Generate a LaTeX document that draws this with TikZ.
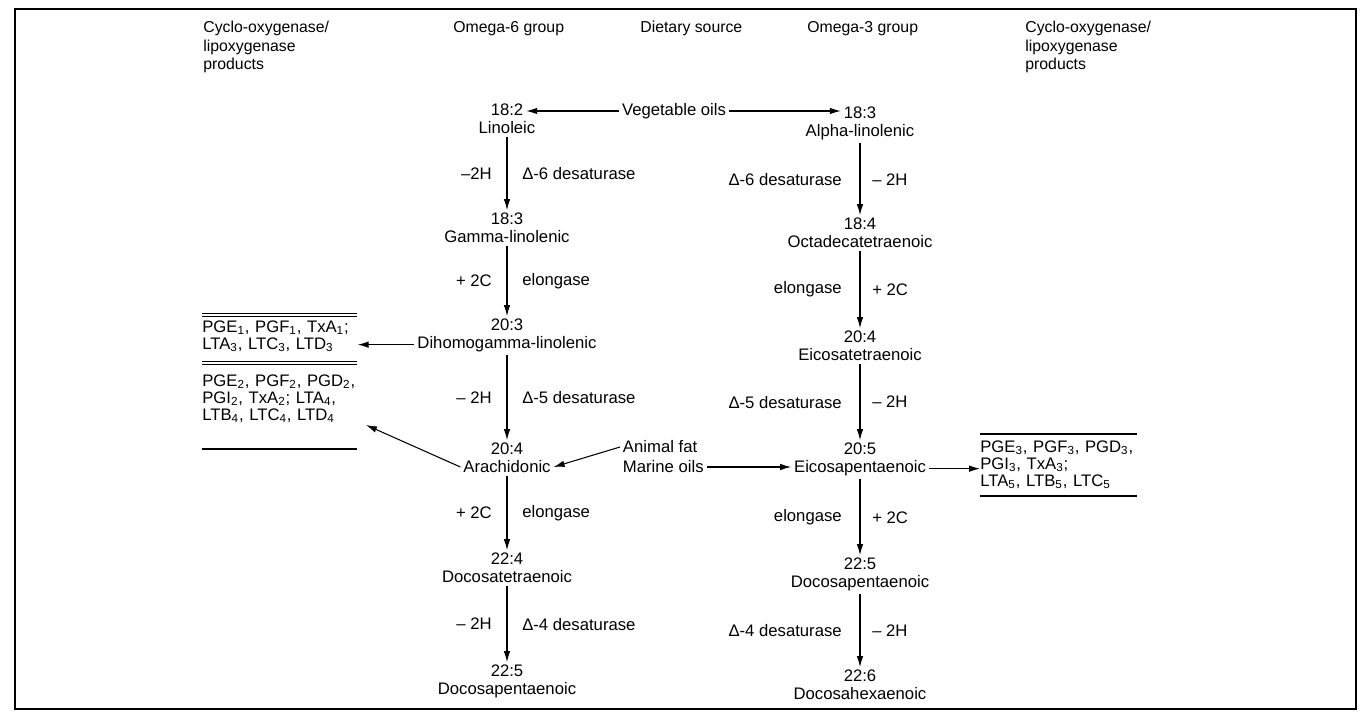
\documentclass[tikz,border=0pt]{standalone}
\usepackage{fontspec}
\setmainfont{Liberation Sans}
\usetikzlibrary{arrows.meta,positioning,calc}

\tikzset{
  acid/.style={inner sep=1.5pt, font=\fontsize{9.5}{10}\selectfont},
  enz/.style={inner sep=1pt, font=\fontsize{9.5}{10}\selectfont},
  head/.style={anchor=north west, inner sep=0pt, align=left, font=\fontsize{9}{10.5}\selectfont},
  prod/.style={anchor=north west, inner sep=0pt, align=left, text width=3.1cm, font=\fontsize{9.5}{9.7}\selectfont},
  flow/.style={-{Latex[length=2.2mm,width=1.3mm]}, line width=0.6pt},
  dbl/.style={double, double distance=1.4pt, line width=0.5pt},
}

\begin{document}
\begin{tikzpicture}[x=0.02cm, y=-0.02cm]
    \useasboundingbox (0,0) rectangle (1369,719);
    \draw[line width=0.7pt] (15,9) rectangle (1356,709);

    % Headers
    \node[head] (hl) at (203,21) {Cyclo-oxygenase/\\lipoxygenase\\products};
    \node[head] (h6) at (453,21) {Omega-6 group};
    \node[head] (hd) at (640,21) {Dietary source};
    \node[head] (h3) at (807,21) {Omega-3 group};
    \node[head] (hr) at (1025,21) {Cyclo-oxygenase/\\lipoxygenase\\products};

    % Omega-6 group
    \foreach \n/\y/\num/\name in {1/110/18:2/Linoleic, 2/219/18:3/Gamma-linolenic,
        3/325/20:3/Dihomogamma-linolenic, 4/449/20:4/Arachidonic,
        5/559/22:4/Docosatetraenoic, 6/671/22:5/Docosapentaenoic}
    {
        \node[acid] (a\n) at (507,\y) {\num};
        \node[acid, below=0pt of a\n] (a\n n) {\name};
    }

    % Omega-3 group
    \foreach \n/\y/\num/\name in {1/113/18:3/Alpha-linolenic, 2/224/18:4/Octadecatetraenoic,
        3/337/20:4/Eicosatetraenoic, 4/449/20:5/Eicosapentaenoic,
        5/564/22:5/Docosapentaenoic, 6/676/22:6/Docosahexaenoic}
    {
        \node[acid] (c\n) at (860,\y) {\num};
        \node[acid, below=0pt of c\n] (c\n n) {\name};
    }

    % Steps
    \draw[flow] (a1n) -- node[enz, left=0.26cm] {–2H} node[enz, right=0.26cm] {Δ-6 desaturase} (a2);
    \draw[flow] (a2n) -- node[enz, left=0.26cm] {+ 2C} node[enz, right=0.26cm] {elongase} (a3);
    \draw[flow] (a3n) -- node[enz, left=0.26cm] {– 2H} node[enz, right=0.26cm] {Δ-5 desaturase} (a4);
    \draw[flow] (a4n) -- node[enz, left=0.26cm] {+ 2C} node[enz, right=0.26cm] {elongase} (a5);
    \draw[flow] (a5n) -- node[enz, left=0.26cm] {– 2H} node[enz, right=0.26cm] {Δ-4 desaturase} (a6);

    \draw[flow] (c1n) -- node[enz, left=0.32cm] {Δ-6 desaturase} node[enz, right=0.2cm] {– 2H} (c2);
    \draw[flow] (c2n) -- node[enz, left=0.32cm] {elongase} node[enz, right=0.2cm] {+ 2C} (c3);
    \draw[flow] (c3n) -- node[enz, left=0.32cm] {Δ-5 desaturase} node[enz, right=0.2cm] {– 2H} (c4);
    \draw[flow] (c4n) -- node[enz, left=0.32cm] {elongase} node[enz, right=0.2cm] {+ 2C} (c5);
    \draw[flow] (c5n) -- node[enz, left=0.32cm] {Δ-4 desaturase} node[enz, right=0.2cm] {– 2H} (c6);

    % Dietary source
    \node[acid] (veg) at (674,111) {Vegetable oils};
    \node[acid, anchor=west] (fat) at (620,447) {Animal fat};
    \node[acid, anchor=west] (mar) at (620,467) {Marine oils};
    \draw[flow] (veg.west) -- (veg.west -| a1.east);
    \draw[flow] (veg.east) -- (veg.east -| c1.west);
    \draw[flow] (fat.west) -- (a4n.east);
    \draw[flow] (mar.east) -- (mar.east -| c4n.west);

    % Products
    \node[prod] (b1) at (202,320) {PGE\textsubscript{1}, PGF\textsubscript{1}, TxA\textsubscript{1};\\LTA\textsubscript{3}, LTC\textsubscript{3}, LTD\textsubscript{3}};
    \node[prod] (b2) at (202,374) {PGE\textsubscript{2}, PGF\textsubscript{2}, PGD\textsubscript{2},\\PGI\textsubscript{2}, TxA\textsubscript{2}; LTA\textsubscript{4},\\LTB\textsubscript{4}, LTC\textsubscript{4}, LTD\textsubscript{4}};
    \node[prod] (b3) at (980,440) {PGE\textsubscript{3}, PGF\textsubscript{3}, PGD\textsubscript{3},\\PGI\textsubscript{3}, TxA\textsubscript{3};\\LTA\textsubscript{5}, LTB\textsubscript{5}, LTC\textsubscript{5}};
    \draw[dbl] (202,315) -- (357,315);
    \draw[dbl] (202,363) -- (357,363);
    \draw[line width=0.6pt] (202,449) -- (357,449);
    \draw[line width=0.6pt] (980,434) -- (1137,434);
    \draw[line width=0.6pt] (980,496) -- (1137,496);

    \coordinate (b2in) at (366,425);
    \draw[flow] (a3n.west) -- (a3n.west -| b1.east);
    \draw[flow] (a4n.west) -- (b2in);
    \draw[flow] (c4n.east) -- (c4n.east -| b3.west);
\end{tikzpicture}
\end{document}
